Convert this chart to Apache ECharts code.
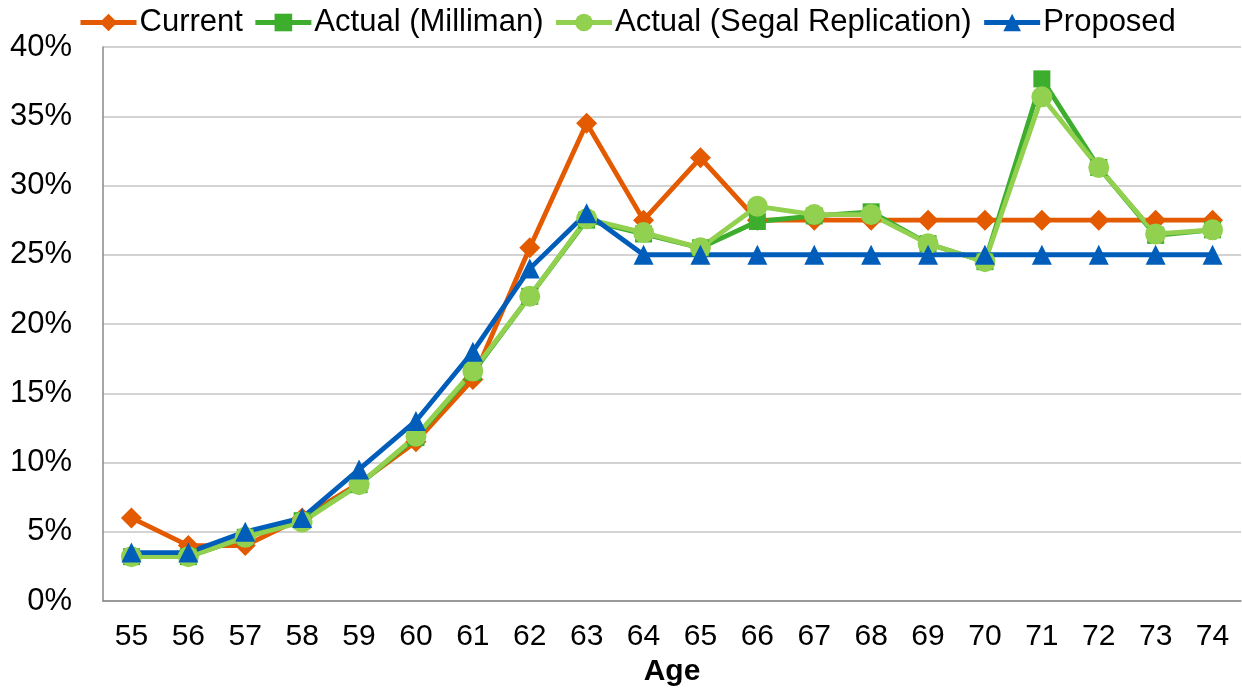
<!DOCTYPE html>
<html>
<head>
<meta charset="utf-8">
<script src="https://cdn.jsdelivr.net/npm/echarts@6/dist/echarts.min.js"></script>
<style>
html,body{margin:0;padding:0;background:#fff;}
#chart{width:1242px;height:692px;}
</style>
</head>
<body>
<div id="chart"></div>
<script>
// Retirement rates by age (%)
const ages = ['55','56','57','58','59','60','61','62','63','64','65','66','67','68','69','70','71','72','73','74'];
const current = [6, 4, 4, 6, 8.5, 11.5, 16, 25.5, 34.5, 27.5, 32, 27.5, 27.5, 27.5, 27.5, 27.5, 27.5, 27.5, 27.5, 27.5];
const actualMilliman = [3.2, 3.2, 4.6, 5.8, 8.4, 11.8, 16.5, 22, 27.5, 26.5, 25.5, 27.4, 27.8, 28.1, 25.8, 24.5, 37.7, 31.3, 26.4, 26.8];
const actualSegal = [3.2, 3.2, 4.6, 5.7, 8.4, 11.9, 16.6, 22, 27.6, 26.6, 25.5, 28.5, 27.9, 27.9, 25.8, 24.5, 36.4, 31.3, 26.5, 26.8];
const proposed = [3.5, 3.5, 5, 6, 9.5, 13, 18, 24, 28, 25, 25, 25, 25, 25, 25, 25, 25, 25, 25, 25];

const FONT = '"Liberation Sans", Arial, sans-serif';

function lineSeries(name, data, color, symbol, size) {
  return {
    name: name,
    type: 'line',
    data: data,
    symbol: symbol,
    symbolSize: size,
    showAllSymbol: true,
    lineStyle: { color: color, width: 4.8 },
    itemStyle: { color: color },
    emphasis: { disabled: true }
  };
}

const chart = echarts.init(document.getElementById('chart'));
chart.setOption({
  animation: false,
  textStyle: { fontFamily: FONT },
  legend: {
    top: 7,
    left: 78,
    padding: 0,
    itemWidth: 56,
    itemHeight: 22,
    itemGap: 10,
    lineStyle: { width: 5 },
    textStyle: { fontSize: 31, color: '#000', fontFamily: FONT, padding: [0, 0, 0, -2] },
    data: ['Current', 'Actual (Milliman)', 'Actual (Segal Replication)', 'Proposed']
  },
  grid: { left: 103, right: 1, top: 47, bottom: 91, containLabel: false },
  xAxis: {
    type: 'category',
    data: ages,
    boundaryGap: true,
    name: 'Age',
    nameLocation: 'middle',
    nameGap: 55,
    nameTextStyle: { fontSize: 30, fontWeight: 'bold', color: '#000', fontFamily: FONT },
    axisLine: { lineStyle: { color: '#888', width: 1.5 } },
    axisTick: { show: false },
    axisLabel: { fontSize: 30, color: '#000', margin: 21, fontFamily: FONT }
  },
  yAxis: {
    type: 'value',
    min: 0,
    max: 40,
    interval: 5,
    axisLine: { show: true, lineStyle: { color: '#888', width: 1.5 } },
    axisTick: { show: false },
    splitLine: { lineStyle: { color: '#c4c4c4', width: 1.5 } },
    axisLabel: { fontSize: 31, color: '#000', margin: 31, formatter: '{value}%', fontFamily: FONT }
  },
  series: [
    lineSeries('Current', current, '#E35A00', 'diamond', 21),
    lineSeries('Actual (Milliman)', actualMilliman, '#3CAD2C', 'rect', 17),
    lineSeries('Actual (Segal Replication)', actualSegal, '#92D050', 'circle', 21),
    lineSeries('Proposed', proposed, '#005EBA', 'triangle', 20)
  ]
});
</script>
</body>
</html>
